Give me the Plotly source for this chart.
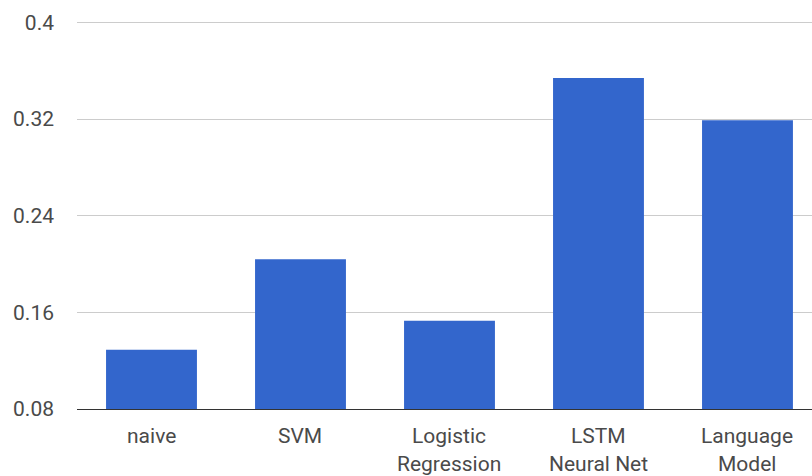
import plotly.graph_objects as go

# Model names (two display lines each) and their scores
line1 = ["naive", "SVM", "Logistic", "LSTM", "Language"]
line2 = ["", "", "Regression", "Neural Net", "Model"]
categories = ["naive", "SVM", "Logistic Regression", "LSTM Neural Net", "Language Model"]
scores = [0.129, 0.204, 0.153, 0.354, 0.319]
y_ticks = [0.08, 0.16, 0.24, 0.32, 0.4]
y_tick_text = ["0.08", "0.16", "0.24", "0.32", "0.4"]

FONT = "Roboto, Arial, sans-serif"
TEXT = "#4a4a4a"
SIZE = 21

fig = go.Figure(
    go.Bar(
        x=categories,
        y=scores,
        marker=dict(color="#3366cc", line=dict(width=0)),
        hoverinfo="x+y",
    )
)

# Two-line category labels placed under each bar
for cat, a, b in zip(categories, line1, line2):
    fig.add_annotation(x=cat, xref="x", y=0, yref="paper", text=a, showarrow=False,
                       yanchor="middle", yshift=-27,
                       font=dict(family=FONT, size=SIZE, color=TEXT))
    if b:
        fig.add_annotation(x=cat, xref="x", y=0, yref="paper", text=b, showarrow=False,
                           yanchor="middle", yshift=-55,
                           font=dict(family=FONT, size=SIZE, color=TEXT))

fig.update_layout(
    width=812,
    height=476,
    margin=dict(l=77, r=0, t=19.5, b=67),
    paper_bgcolor="white",
    plot_bgcolor="white",
    bargap=0.39,
    showlegend=False,
    xaxis=dict(
        type="category",
        range=[-0.5, 4.433],
        showticklabels=False,
        showgrid=False,
        showline=True,
        linecolor="#333333",
        linewidth=1,
        ticks="",
        zeroline=False,
    ),
    yaxis=dict(
        range=[0.08, 0.402],
        tickvals=y_ticks,
        ticktext=y_tick_text,
        showgrid=True,
        gridcolor="#cccccc",
        gridwidth=1,
        zeroline=False,
        ticks="",
        ticklabelstandoff=22,
        tickfont=dict(family=FONT, size=SIZE, color=TEXT),
    ),
)

fig.write_html("out.html")
